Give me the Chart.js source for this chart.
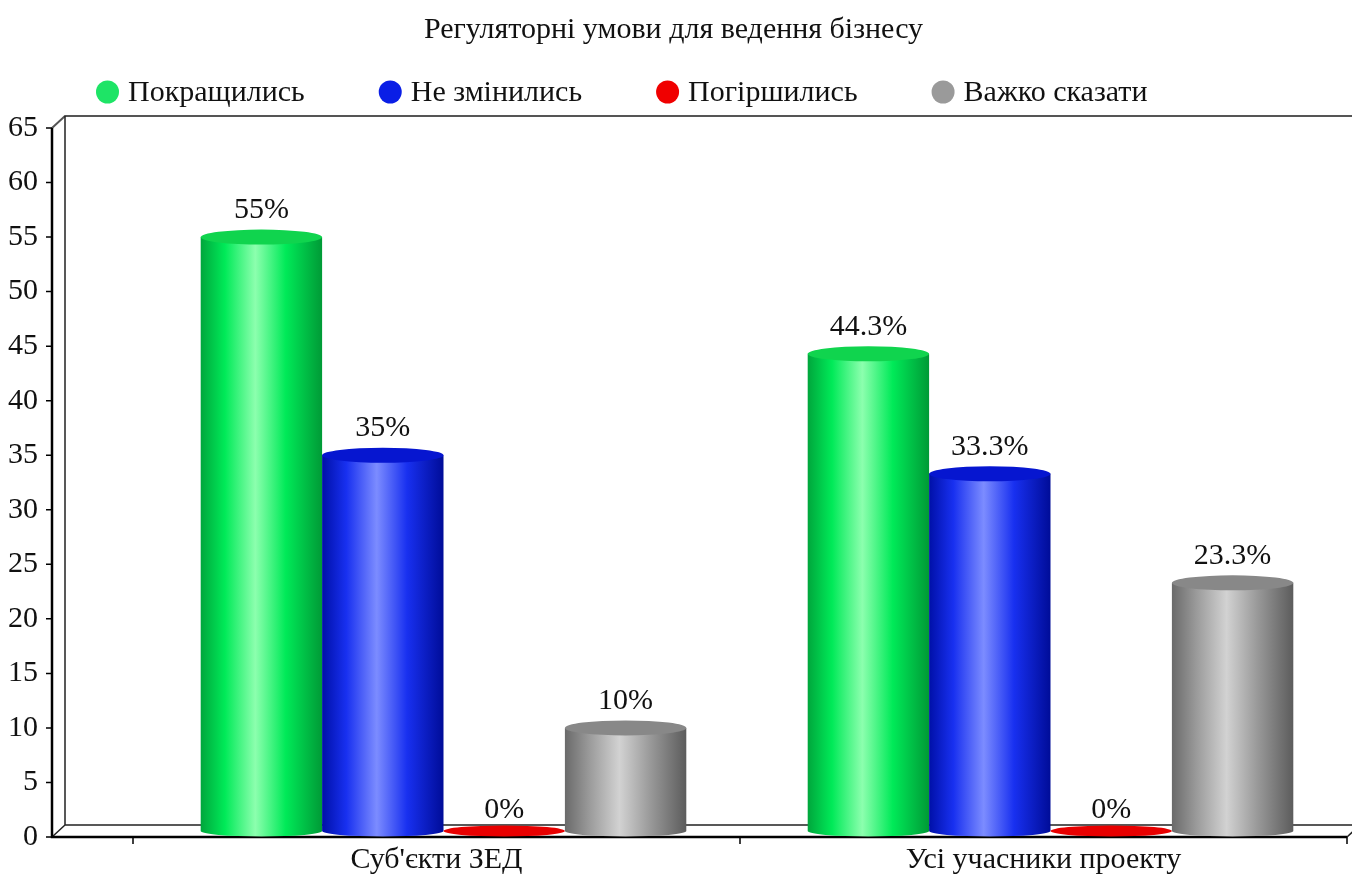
<!DOCTYPE html>
<html>
<head>
<meta charset="utf-8">
<title>Регуляторні умови для ведення бізнесу</title>
<script src="https://cdn.jsdelivr.net/npm/chart.js@4"></script>
<style>
  html, body { margin: 0; padding: 0; background: #fff; }
  canvas { display: block; }
</style>
</head>
<body>
<canvas id="chart" width="1352" height="874"></canvas>
<script>
const categories = ["Суб'єкти ЗЕД", 'Усі учасники проекту'];
const seriesNames = ['Покращились', 'Не змінились', 'Погіршились', 'Важко сказати'];
const improved = [55, 44.3];
const unchanged = [35, 33.3];
const worsened = [0, 0];
const hardToSay = [10, 23.3];
const yTicks = [0, 5, 10, 15, 20, 25, 30, 35, 40, 45, 50, 55, 60, 65];

const FONT = '"Liberation Serif", "DejaVu Serif", serif';
const TEXT = '#111';
const FS = 30;

// кольори циліндрів: градієнт тіла, кришка і кружок легенди
const palettes = [
  { dot: '#1ee466', cap: '#10d44e',
    body: [[0, '#00a63c'], [0.2, '#00ea58'], [0.45, '#8cffae'], [0.7, '#00ea58'], [1, '#009a36']] },
  { dot: '#0a1ee6', cap: '#0616d0',
    body: [[0, '#0010a8'], [0.2, '#1830f0'], [0.45, '#7c8cff'], [0.7, '#1830f0'], [1, '#000c98']] },
  { dot: '#f00000', cap: '#e80000',
    body: [[0, '#b00000'], [0.45, '#ff6060'], [1, '#b00000']] },
  { dot: '#9a9a9a', cap: '#888888',
    body: [[0, '#6a6a6a'], [0.2, '#9a9a9a'], [0.45, '#d2d2d2'], [0.7, '#9a9a9a'], [1, '#5c5c5c']] }
];

const AXIS_GAP = 81;  // передня вісь Y лівіше області графіка
const DX = 13, DY = 12; // глибина "3D" рамки
const SHIFT = 7;      // циліндри стоять посередині глибини

function drawFrame(chart) {
  const ctx = chart.ctx, ca = chart.chartArea, y = chart.scales.y;
  const ax = ca.left - AXIS_GAP;
  const yTop = y.getPixelForValue(65), y0 = y.getPixelForValue(0);
  const W = chart.width;
  ctx.save();
  // задня стінка і підлога
  ctx.strokeStyle = '#555';
  ctx.lineWidth = 2;
  ctx.beginPath();
  ctx.moveTo(ax, yTop); ctx.lineTo(ax + DX, yTop - DY); ctx.lineTo(W, yTop - DY);
  ctx.stroke();
  ctx.strokeStyle = '#222';
  ctx.lineWidth = 1.5;
  ctx.beginPath();
  ctx.moveTo(ax + DX, yTop - DY); ctx.lineTo(ax + DX, y0 - DY); ctx.lineTo(W, y0 - DY);
  ctx.moveTo(ax, y0); ctx.lineTo(ax + DX, y0 - DY);
  ctx.moveTo(ca.right, y0); ctx.lineTo(ca.right + DX, y0 - DY);
  ctx.stroke();
  // передні осі
  ctx.strokeStyle = '#000';
  ctx.lineWidth = 2.5;
  ctx.beginPath();
  ctx.moveTo(ax, yTop); ctx.lineTo(ax, y0); ctx.lineTo(ca.right, y0);
  ctx.stroke();
  ctx.lineWidth = 1.5;
  ctx.beginPath();
  yTicks.forEach(v => {
    const p = y.getPixelForValue(v);
    ctx.moveTo(ax - 6, p); ctx.lineTo(ax, p);
  });
  const step = (ca.right - ca.left) / categories.length;
  for (let i = 0; i <= categories.length; i++) {
    const px = ca.left + i * step;
    ctx.moveTo(px, y0); ctx.lineTo(px, y0 + 7);
  }
  ctx.stroke();
  ctx.restore();
}

function drawCylinder(ctx, cx, w, top, base, pal) {
  const l = cx - w / 2;
  const rTop = 7.5, rBot = 5.5;
  if (base - top < 0.5) {
    // нульове значення: лише пласкій диск
    ctx.fillStyle = pal.cap;
    ctx.beginPath();
    ctx.ellipse(cx, base, w / 2, rBot, 0, 0, Math.PI * 2);
    ctx.fill();
    return;
  }
  const g = ctx.createLinearGradient(l, 0, l + w, 0);
  pal.body.forEach(([o, c]) => g.addColorStop(o, c));
  ctx.fillStyle = g;
  ctx.beginPath();
  ctx.moveTo(l, top);
  ctx.lineTo(l, base);
  ctx.ellipse(cx, base, w / 2, rBot, 0, Math.PI, 0, true);
  ctx.lineTo(l + w, top);
  ctx.closePath();
  ctx.fill();
  ctx.fillStyle = pal.cap;
  ctx.beginPath();
  ctx.ellipse(cx, top, w / 2, rTop, 0, 0, Math.PI * 2);
  ctx.fill();
}

const cylinders = {
  id: 'cylinders',
  beforeDatasetsDraw(chart) {
    drawFrame(chart);
  },
  beforeDatasetDraw() {
    return false; // стовпці малюються циліндрами нижче
  },
  afterDatasetsDraw(chart) {
    const ctx = chart.ctx;
    ctx.save();
    chart.data.datasets.forEach((ds, i) => {
      const meta = chart.getDatasetMeta(i);
      meta.data.forEach((bar, j) => {
        const p = bar.getProps(['x', 'y', 'base', 'width'], true);
        const cx = p.x + SHIFT;
        const base = p.base - 6;
        const top = Math.min(p.y, base);
        drawCylinder(ctx, cx, p.width, top, base, palettes[i]);
        ctx.fillStyle = TEXT;
        ctx.font = FS + 'px ' + FONT;
        ctx.textAlign = 'center';
        ctx.textBaseline = 'middle';
        ctx.fillText(ds.data[j] + '%', cx, p.y - 27);
      });
    });
    ctx.restore();
  },
  afterDraw(chart) {
    // легенда з кружками
    const ctx = chart.ctx;
    ctx.save();
    ctx.font = FS + 'px ' + FONT;
    ctx.textBaseline = 'middle';
    ctx.textAlign = 'left';
    let x = 96;
    const yc = 92, r = 11.5;
    chart.data.datasets.forEach((ds, i) => {
      ctx.fillStyle = palettes[i].dot;
      ctx.beginPath();
      ctx.arc(x + r, yc, r, 0, Math.PI * 2);
      ctx.fill();
      ctx.fillStyle = TEXT;
      ctx.fillText(ds.label, x + 2 * r + 9, yc + 1);
      x += 2 * r + 9 + ctx.measureText(ds.label).width + 74;
    });
    ctx.restore();
  }
};

const seriesValues = [improved, unchanged, worsened, hardToSay];

Chart.defaults.font.family = FONT;
Chart.defaults.color = TEXT;

new Chart(document.getElementById('chart'), {
  type: 'bar',
  data: {
    labels: categories,
    datasets: seriesNames.map((name, i) => ({
      label: name,
      data: seriesValues[i],
      backgroundColor: palettes[i].dot
    }))
  },
  options: {
    responsive: false,
    animation: false,
    layout: { padding: { left: 0, right: 5, top: 0, bottom: 0 } },
    datasets: { bar: { barPercentage: 1, categoryPercentage: 0.8 } },
    plugins: {
      legend: { display: false },
      tooltip: { enabled: false },
      title: {
        display: true,
        text: 'Регуляторні умови для ведення бізнесу',
        color: TEXT,
        font: { size: FS, weight: 'normal', family: FONT },
        padding: { top: 12, bottom: 80 }
      }
    },
    scales: {
      x: {
        grid: { display: false, drawTicks: false },
        border: { display: false },
        ticks: { font: { size: FS }, color: TEXT, padding: 5 },
        afterFit(s) { s.height = 37; }
      },
      y: {
        min: 0,
        max: 65,
        grid: { display: false, drawTicks: false },
        border: { display: false },
        ticks: { stepSize: 5, font: { size: FS }, color: TEXT, padding: 95 },
        afterFit(s) {
          // широкий відступ підписів не повинен стискати область по висоті
          s.width = 133;
          s.paddingTop = 15;
          s.paddingBottom = 15;
        }
      }
    }
  },
  plugins: [cylinders]
});
</script>
</body>
</html>
